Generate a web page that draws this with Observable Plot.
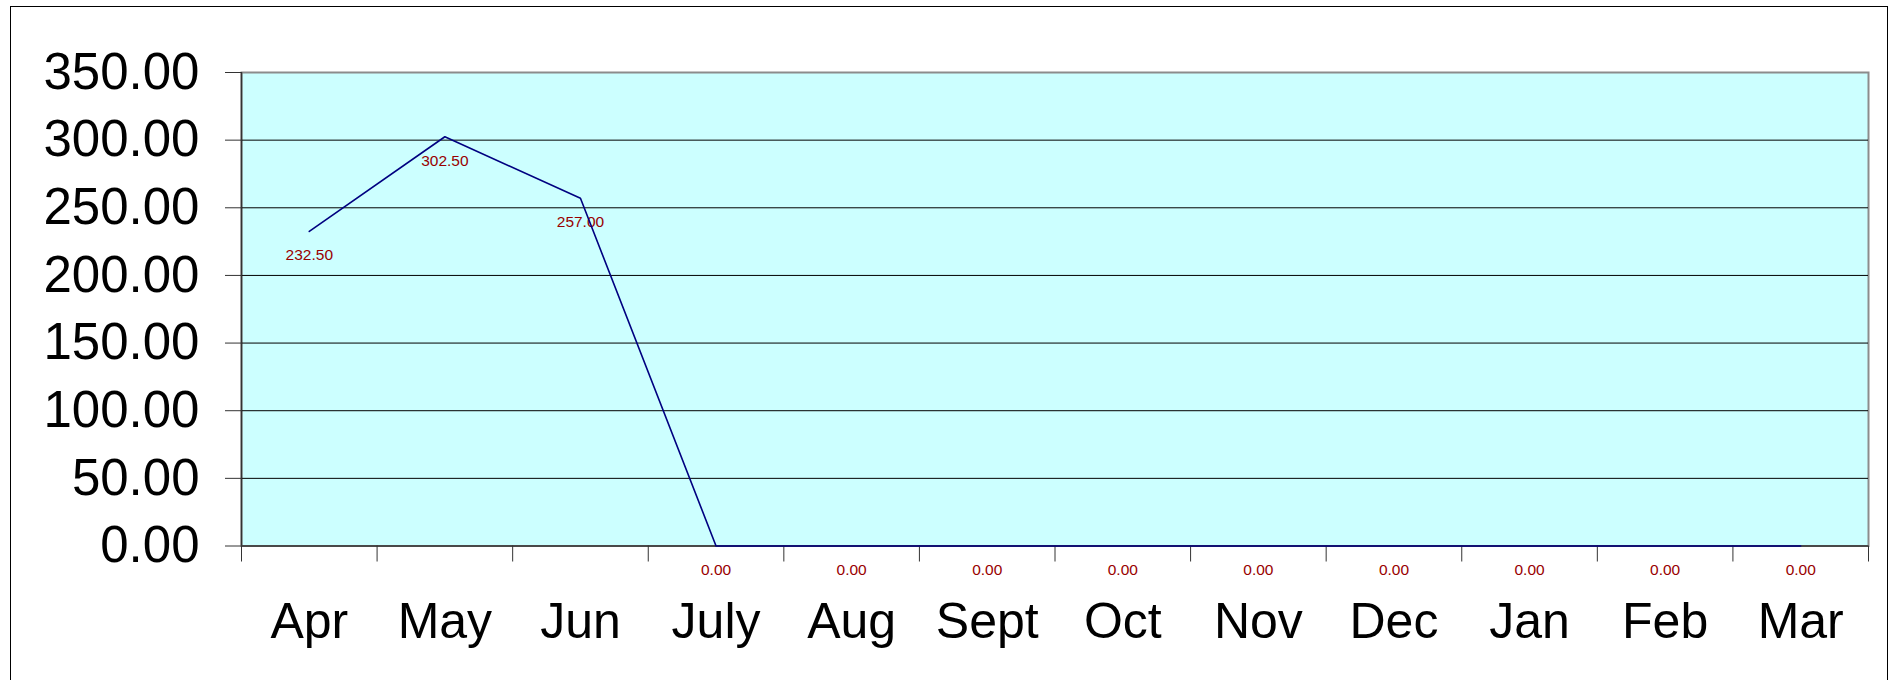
<!DOCTYPE html>
<html>
<head>
<meta charset="utf-8">
<script src="https://cdn.jsdelivr.net/npm/d3@7"></script>
<script src="https://cdn.jsdelivr.net/npm/@observablehq/plot@0.6"></script>
<style>
  html, body { margin: 0; padding: 0; background: #fff; overflow: hidden; }
  #wrap { position: relative; width: 1894px; height: 680px; }
  #border { position: absolute; left: 10px; top: 6px; width: 1878px; height: 700px; border: 1.5px solid #000; box-sizing: border-box; pointer-events: none; }
  #chart { position: absolute; left: 0; top: 0; }
</style>
</head>
<body>
<div id="wrap">
  <div id="chart"></div>
  <div id="border"></div>
</div>
<script>
const months = ["Apr", "May", "Jun", "July", "Aug", "Sept", "Oct", "Nov", "Dec", "Jan", "Feb", "Mar"];
const values = [232.5, 302.5, 257.0, 0, 0, 0, 0, 0, 0, 0, 0, 0];
const yTicks = [0, 50, 100, 150, 200, 250, 300, 350];

const data = months.map((m, i) => ({ month: m, pos: i + 0.5, value: values[i] }));
const centers = months.map((m, i) => i + 0.5);
const bounds = d3.range(months.length + 1);

const chart = Plot.plot({
  width: 1894,
  height: 680,
  marginLeft: 241,
  marginRight: 26,
  marginTop: 72,
  marginBottom: 134.5,
  style: { fontFamily: "'Liberation Sans', Arial, sans-serif", background: "transparent" },
  x: { type: "linear", domain: [0, months.length], label: null },
  y: { domain: [0, 350], label: null },
  marks: [
    Plot.frame({ fill: "#ccffff", stroke: "#8c8c8c", strokeWidth: 2 }),
    Plot.gridY(yTicks.filter(t => t > 0 && t < 350), { stroke: "#000", strokeOpacity: 1, strokeWidth: 1 }),
    Plot.axisY({ ticks: yTicks, tickFormat: d => d.toFixed(2), tickSize: 16, tickPadding: 26, fontSize: 51, stroke: "#333", color: "#000", label: null }),
    Plot.axisX({ ticks: bounds, tickFormat: () => "", tickSize: 16, stroke: "#333", label: null }),
    Plot.axisX({ ticks: centers, tickFormat: d => months[Math.floor(d)], tickSize: 0, tickPadding: 56, fontSize: 50, color: "#000", label: null }),
    Plot.ruleX([0], { stroke: "#333", strokeWidth: 1.5 }),
    Plot.ruleY([0], { stroke: "#333", strokeWidth: 1.5 }),
    Plot.text(data, { x: "pos", y: "value", text: d => d.value.toFixed(2), dy: 24, fill: "#990000", fontSize: 15.5 }),
    Plot.line(data, { x: "pos", y: "value", stroke: "#000080", strokeWidth: 1.6 })
  ]
});
document.getElementById("chart").appendChild(chart);
</script>
</body>
</html>
